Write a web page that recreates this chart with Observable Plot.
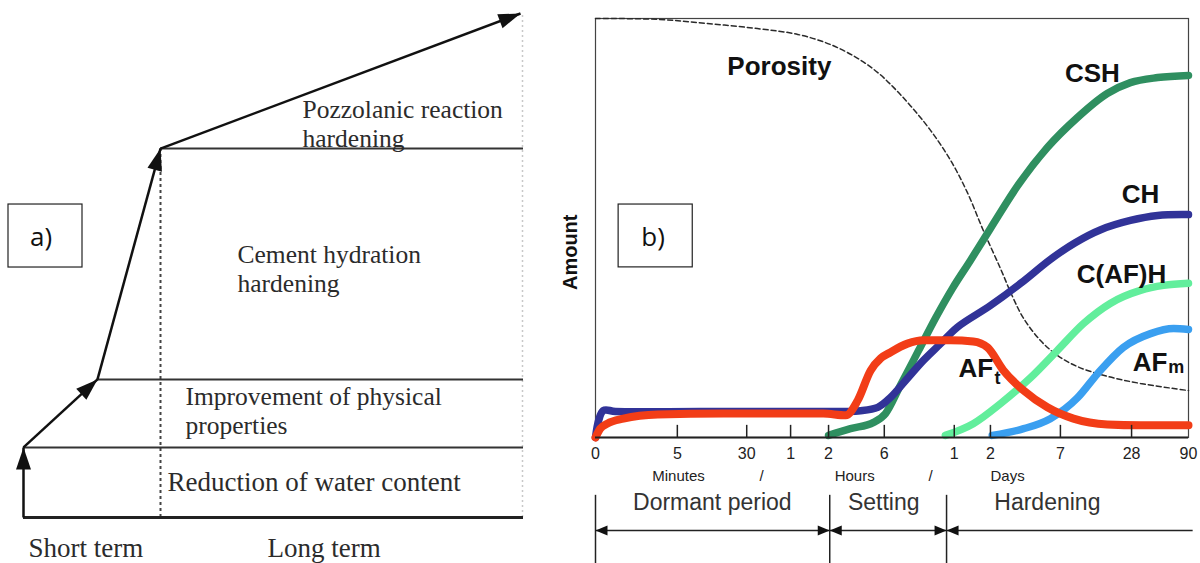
<!DOCTYPE html>
<html><head><meta charset="utf-8">
<script src="https://cdn.jsdelivr.net/npm/d3@7"></script>
<script src="https://cdn.jsdelivr.net/npm/@observablehq/plot@0.6"></script>
<style>
html,body{margin:0;padding:0;background:#fff;}
#wrap{position:relative;width:1200px;height:563px;overflow:hidden;background:#fff;}
#a{position:absolute;left:0;top:0;}
#b{position:absolute;left:540px;top:0;}
</style></head><body>
<div id="wrap"><div id="a"></div><div id="b"></div></div>
<script>
// ================= Panel a data =================
const pathTime     = [0, 0, 14.8, 27.4, 99.4];
const pathStrength = [0, 13.9, 27.4, 73.2, 100];
const stageLabels = ["Reduction of water content", "Improvement of physical\nproperties", "Cement hydration\nhardening", "Pozzolanic reaction\nhardening"];
const stageLabelTime = [28.8, 32.4, 42.8, 55.8];
const stageLabelStrength = [5.2, 16.6, 44.8, 73.6];
const stageLabelSize = [27, 25.5, 25.5, 25.5];
const termLabels = ["Short term", "Long term"];
const termLabelTime = [1.0, 48.8];
const termLabelStrength = [-7.9, -7.9];
const shortTermEnd = 27.4;

// ================= Panel b data =================
const porosityX = [0, 10.5, 18.9, 27.3, 34.1, 39.6, 44.2, 47.6, 50.3, 53.1, 56.5, 59.9, 62.7, 65.4, 68.3, 70.3, 72.2, 75.0, 77.9, 81.3, 86.3, 91.9, 100];
const porosityY = [100, 99.8, 98.8, 97.6, 96.2, 93.8, 90.5, 87.1, 83.5, 79.2, 73.3, 66.1, 58.5, 49.4, 40.3, 33.7, 28.4, 23.2, 19.6, 16.9, 14.6, 12.9, 11.2];
const cshX = [39.3, 43.0, 46.9, 48.9, 51.4, 54.5, 57.3, 60.2, 63.2, 66.6, 71.2, 76.2, 81.3, 86.3, 90.2, 94.8, 100];
const cshY = [0.5, 2.1, 3.6, 5.7, 12.4, 20.8, 28.4, 35.6, 42.2, 49.9, 60.1, 69.2, 76.4, 82.1, 84.7, 85.9, 86.4];
const chX = [0, 1.3, 3.4, 17.7, 34.6, 44.7, 47.6, 49.7, 52.3, 55.3, 58.2, 61.0, 66.6, 71.7, 76.7, 80.9, 85.2, 90.2, 94.8, 100];
const chY = [0, 6.4, 6.2, 6.2, 6.2, 6.4, 7.2, 9.5, 13.6, 18.4, 22.4, 26.3, 31.5, 36.8, 42.5, 46.5, 49.6, 51.8, 53.0, 53.2];
const afhX = [59.0, 63.7, 68.3, 73.4, 77.9, 82.3, 86.8, 91.9, 95.8, 100];
const afhY = [0.5, 3.3, 8.1, 14.3, 20.8, 27.2, 32.0, 35.1, 36.3, 36.8];
const afmX = [66.9, 72.2, 76.7, 81.3, 84.7, 89.0, 93.6, 97.5, 100];
const afmY = [0.5, 2.1, 4.5, 9.5, 15.3, 21.5, 24.8, 26.0, 25.8];
const aftX = [0, 0.8, 2.0, 4.7, 10.5, 21.6, 38.4, 42.2, 44.2, 46.4, 48.1, 49.7, 52.6, 55.3, 59.9, 63.7, 66.1, 68.8, 72.2, 76.2, 80.6, 86.3, 91.9, 100];
const aftY = [0, 2.1, 3.3, 4.5, 5.5, 5.7, 5.7, 5.3, 8.8, 16.0, 18.9, 20.3, 22.4, 23.2, 23.2, 22.9, 21.5, 16.0, 11.2, 7.2, 4.5, 3.1, 2.9, 2.9];

const seriesLabels = ["Porosity", "CSH", "CH", "C(AF)H"];
const seriesLabelX = [31.0, 83.8, 91.9, 88.7];
const seriesLabelY = [88.5, 86.9, 58.0, 38.9];
const subLabels = ["AF", "AF"];
const subLabelX = [61.2, 90.6];
const subLabelY = [16.5, 17.9];
const subScripts = ["t", "m"];
const subScriptX = [67.3, 96.6];
const subScriptY = [14.1, 16.7];

const tickPos = [0, 13.8, 25.5, 32.9, 39.3, 48.7, 60.5, 66.6, 78.4, 90.4, 100];
const tickLabels = ["0", "5", "30", "1", "2", "6", "1", "2", "7", "28", "90"];
const unitLabels = ["Minutes", "/", "Hours", "/", "Days"];
const unitPos = [14.0, 28.0, 43.7, 56.5, 69.5];

const phaseNames = ["Dormant period", "Setting", "Hardening"];
const phaseStart = [0, 39.5, 59.2];
const phaseEnd = [39.5, 59.2, 100.7];
const phaseEndHead = [true, true, false];
const phaseLabelPos = [19.7, 48.6, 76.2];

// ================= helpers =================
function headSymbol(len, wid) {
  return {draw(ctx) { ctx.moveTo(0, 0); ctx.lineTo(-wid / 2, len); ctx.lineTo(wid / 2, len); ctx.closePath(); }};
}

// ================= Panel a =================
const A = {width: 540, height: 563, ml: 23, mr: 17, mt: 13, mb: 46};
const ax = (A.width - A.ml - A.mr) / 100, ay = (A.height - A.mt - A.mb) / 100;
const segs = d3.range(1, pathTime.length).map(i => ({x1: pathTime[i - 1], y1: pathStrength[i - 1], x2: pathTime[i], y2: pathStrength[i]}));
segs.forEach(s => s.angle = Math.atan2((s.x2 - s.x1) * ax, (s.y2 - s.y1) * ay) * 180 / Math.PI);
const levels = d3.range(1, 4).map(i => ({x1: pathTime[i], x2: 100, y: pathStrength[i]}));

const chartA = Plot.plot({
  width: A.width, height: A.height,
  marginLeft: A.ml, marginRight: A.mr, marginTop: A.mt, marginBottom: A.mb,
  x: {domain: [0, 100], axis: null},
  y: {domain: [0, 100], axis: null},
  style: {fontFamily: "Liberation Serif", overflow: "visible", background: "transparent"},
  marks: [
    Plot.ruleX([99.8], {y1: 0, y2: 100, stroke: "#c8c8c8", strokeWidth: 1.5, strokeDasharray: "2,3"}),
    Plot.ruleX([shortTermEnd], {y1: 0, y2: pathStrength[3], stroke: "#444", strokeWidth: 2, strokeDasharray: "3,3"}),
    Plot.ruleY(levels, {x1: "x1", x2: "x2", y: "y", stroke: "#333", strokeWidth: 2}),
    Plot.ruleY([0], {x1: 0, x2: 100, stroke: "#222", strokeWidth: 3}),
    Plot.link(segs, {x1: "x1", y1: "y1", x2: "x2", y2: "y2", stroke: "#111", strokeWidth: 2.5}),
    Plot.dot(segs, {x: "x2", y: "y2", symbol: headSymbol(22, 15), rotate: "angle", fill: "#111", stroke: "none", r: 5}),
    Plot.text(stageLabels, {x: stageLabelTime, y: stageLabelStrength, text: d => d, textAnchor: "start", lineAnchor: "bottom", lineHeight: 1.12, fontSize: stageLabelSize, fill: "#2b2b2b"}),
    Plot.text(termLabels, {x: termLabelTime, y: termLabelStrength, text: d => d, textAnchor: "start", lineAnchor: "bottom", fontSize: 27, fill: "#2b2b2b"}),
    Plot.rect([0], {x1: -3, x2: 11.8, y1: 49.6, y2: 62.1, fill: "white", stroke: "#222", strokeWidth: 1.2}),
    Plot.text(["a)"], {x: 3.5, y: 55.6, text: d => d, fontFamily: "Open Sans", fontSize: 26, fill: "#111"})
  ]
});
document.getElementById("a").appendChild(chartA);

// ================= Panel b =================
const B = {width: 660, height: 563, ml: 55, mr: 12, mt: 18, mb: 126};
const phaseArrowY = -22.2;
const phaseHeads = [];
phaseStart.forEach((s, i) => {
  phaseHeads.push({x: s, angle: -90});
  if (phaseEndHead[i]) phaseHeads.push({x: phaseEnd[i], angle: 90});
});
const seriesLine = (xs, ys, color, w, curve = "monotone-x") => Plot.line(xs, {x: xs, y: ys, stroke: color, strokeWidth: w, curve, strokeLinecap: "round", strokeLinejoin: "round"});

const chartB = Plot.plot({
  width: B.width, height: B.height,
  marginLeft: B.ml, marginRight: B.mr, marginTop: B.mt, marginBottom: B.mb,
  x: {domain: [0, 100], label: null},
  y: {domain: [0, 100], axis: null},
  style: {fontFamily: "Liberation Sans", overflow: "visible", background: "transparent"},
  marks: [
    Plot.frame({stroke: "#444", strokeWidth: 1.2}),
    Plot.line(porosityX, {x: porosityX, y: porosityY, stroke: "#2a2a2a", strokeWidth: 1.5, strokeDasharray: "5,3", curve: "catmull-rom"}),
    seriesLine(cshX, cshY, "#2f8f60", 7.5),
    seriesLine(chX, chY, "#313398", 7.5, "catmull-rom"),
    seriesLine(afhX, afhY, "#62ee9c", 7.5),
    seriesLine(afmX, afmY, "#3a9ff0", 7.5),
    seriesLine(aftX, aftY, "#f23d17", 8),
    Plot.ruleX(tickPos.slice(1, -1), {y1: 0, y2: 2.9, stroke: "#222", strokeWidth: 1.5}),
    Plot.ruleY([0], {stroke: "#222", strokeWidth: 1.8}),
    Plot.axisX(tickPos, {tickSize: 0, tickPadding: 10, tickFormat: d => tickLabels[tickPos.indexOf(d)], fontSize: 16, color: "#222", label: null}),
    Plot.text(unitLabels, {x: unitPos, y: -9.3, text: d => d, fontSize: 15, fill: "#222"}),
    Plot.text(phaseNames, {x: phaseLabelPos, y: -15.5, text: d => d, fontSize: 23, fill: "#333"}),
    Plot.ruleX(phaseStart, {y1: -13.8, y2: -30.1, stroke: "#222", strokeWidth: 1.5}),
    Plot.link(phaseStart, {x1: phaseStart, x2: phaseEnd, y1: phaseArrowY, y2: phaseArrowY, stroke: "#222", strokeWidth: 1.5}),
    Plot.dot(phaseHeads, {x: "x", y: phaseArrowY, symbol: headSymbol(12, 10), rotate: "angle", fill: "#111", stroke: "none", r: 4}),
    Plot.text(["Amount"], {x: 0, y: 44.2, dx: -25, text: d => d, rotate: -90, fontWeight: "bold", fontSize: 20, fill: "#111"}),
    Plot.text(seriesLabels, {x: seriesLabelX, y: seriesLabelY, text: d => d, fontWeight: "bold", fontSize: 26, fill: "#111"}),
    Plot.text(subLabels, {x: subLabelX, y: subLabelY, text: d => d, textAnchor: "start", fontWeight: "bold", fontSize: 26, fill: "#111"}),
    Plot.text(subScripts, {x: subScriptX, y: subScriptY, text: d => d, textAnchor: "start", fontWeight: "bold", fontSize: 18, fill: "#111"}),
    Plot.rect([0], {x1: 3.9, x2: 16.4, y1: 40.6, y2: 55.6, fill: "white", stroke: "#222", strokeWidth: 1.2}),
    Plot.text(["b)"], {x: 9.7, y: 47.7, text: d => d, fontFamily: "Open Sans", fontSize: 26, fill: "#111"})
  ]
});
document.getElementById("b").appendChild(chartB);
</script>
</body></html>
